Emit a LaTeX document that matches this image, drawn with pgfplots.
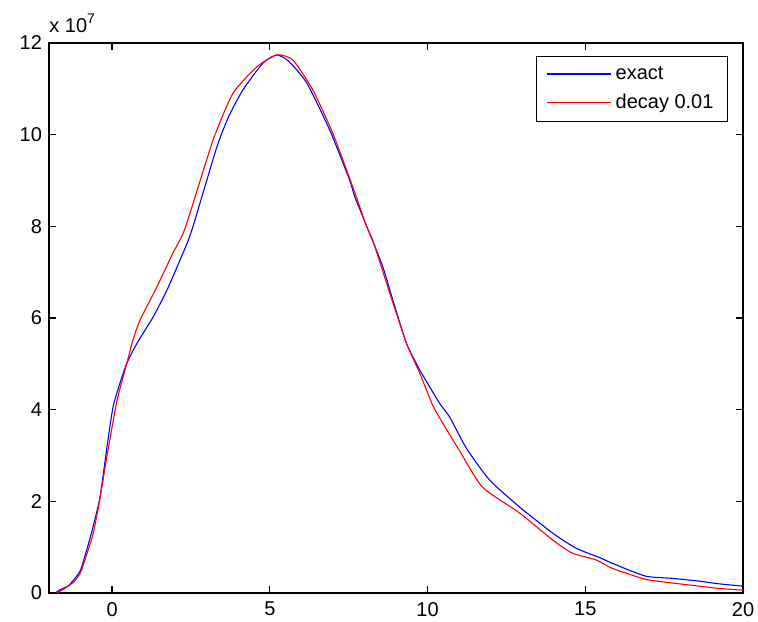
\documentclass[border=0pt]{standalone}
\usepackage{pgfplots}
\pgfplotsset{compat=1.18}
\usepackage{fontspec}
\setmainfont{Liberation Sans}
\begin{document}
\begin{tikzpicture}
\useasboundingbox (-24.5pt,-14pt) rectangle (354.5pt,296.5pt);
\begin{axis}[
  name=main,
  at={(0pt,0pt)}, anchor=south west,
  scale only axis, width=347pt, height=275pt,
  xmin=-2, xmax=20, ymin=0, ymax=12e7,
  xtick={0,5,10,15,20},
  xticklabels={0,5,10,15,20},
  ytick={0,2e7,4e7,6e7,8e7,10e7,12e7},
  yticklabels={0,2,4,6,8,10,12},
  scaled y ticks=false,
  tick align=inside, major tick length=3.5pt,
  axis line style={black, line width=0.7pt},
  every tick/.style={black, line width=0.6pt},
  tick label style={font=\fontsize{10}{12}\selectfont},
  xticklabel style={yshift=-1pt},
  legend style={at={(axis description cs:1,1)}, anchor=north east, xshift=-7.5pt, yshift=-6.5pt,
    draw=black, line width=0.5pt, font=\fontsize{10}{12}\selectfont, inner xsep=5pt, inner ysep=3pt,
    row sep=2pt},
  legend cell align=left,
]
\addplot[color=blue, line width=0.55pt, smooth, tension=0.35, forget plot] coordinates {
(-1.8,0) (-1.65,0.07e7) (-1.4,0.15e7) (-1.2,0.3e7) (-1.0,0.5e7) (-0.8,0.95e7) (-0.63,1.37e7) (-0.38,2.1e7) (-0.16,3.2e7) (0.03,4.06e7) (0.25,4.58e7) (0.47,5.02e7) (0.79,5.45e7) (1.3,6.02e7) (1.74,6.61e7) (2.25,7.42e7) (2.53,7.92e7) (3.32,9.73e7) (3.7,10.4e7) (4.15,10.98e7) (4.78,11.56e7) (5.22,11.74e7) (5.6,11.6e7) (6.17,11.13e7) (6.9,10.1e7) (7.53,9.01e7) (7.69,8.65e7) (8.16,7.85e7) (8.58,7.12e7) (8.9,6.39e7) (9.33,5.45e7) (9.75,4.87e7) (10.38,4.14e7) (10.7,3.84e7) (11.23,3.16e7) (11.96,2.47e7) (12.91,1.88e7) (13.96,1.31e7) (14.7,0.98e7) (15.5,0.76e7) (15.85,0.65e7) (16.9,0.37e7) (17.75,0.32e7) (18.6,0.26e7) (19.24,0.2e7) (20,0.15e7)
};
\addplot[color=red, line width=0.55pt, smooth, tension=0.35, forget plot] coordinates {
(-1.75,0) (-1.5,0.1e7) (-1.2,0.25e7) (-1.0,0.45e7) (-0.8,0.85e7) (-0.6,1.3e7) (-0.4,2.0e7) (-0.16,3.0e7) (0.16,4.21e7) (0.47,5.02e7) (0.66,5.52e7) (0.89,5.96e7) (1.42,6.68e7) (1.93,7.42e7) (2.31,7.95e7) (3.2,9.88e7) (3.83,10.9e7) (4.59,11.48e7) (5.22,11.74e7) (5.73,11.63e7) (6.36,10.98e7) (6.99,10.04e7) (7.63,8.86e7) (8.07,7.99e7) (8.26,7.7e7) (8.8,6.55e7) (9.33,5.45e7) (9.75,4.8e7) (10.16,4.1e7) (10.47,3.72e7) (11.0,3.12e7) (11.74,2.31e7) (12.91,1.75e7) (13.96,1.16e7) (14.59,0.87e7) (15.35,0.72e7) (15.85,0.54e7) (16.9,0.3e7) (17.75,0.22e7) (18.6,0.15e7) (19.24,0.1e7) (20,0.06e7)
};
\addlegendimage{legend image code/.code={\draw[blue, line width=0.6pt] (0pt,0.25pt) -- (32pt,0.25pt);}}
\addlegendentry{exact}
\addlegendimage{legend image code/.code={\draw[red, line width=0.6pt] (0pt,0.25pt) -- (32pt,0.25pt);}}
\addlegendentry{decay 0.01}
\end{axis}
\node[anchor=base west, inner sep=0pt, font=\fontsize{10}{12}\selectfont] at ([yshift=5pt]main.north west) {x 10\raisebox{0.9ex}{\fontsize{7}{8}\selectfont 7}};
\end{tikzpicture}
\end{document}
